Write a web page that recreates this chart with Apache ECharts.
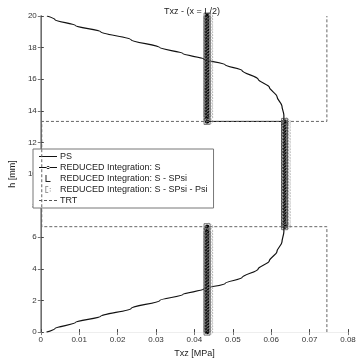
<!DOCTYPE html>
<html><head><meta charset="utf-8">
<script src="https://cdn.jsdelivr.net/npm/echarts@6/dist/echarts.min.js"></script>
<style>html,body{margin:0;padding:0;background:#fff}#c{width:360px;height:363px}</style>
</head><body><div id="c"></div>
<script>
// ---- data ----
var titleText = 'Txz - (x = L/2)';
var xName = 'Txz [MPa]';
var yName = 'h [mm]';
var xTicks = ['0','0.01','0.02','0.03','0.04','0.05','0.06','0.07','0.08'];
var seriesNames = ['PS','REDUCED Integration: S','REDUCED Integration: S - SPsi','REDUCED Integration: S - SPsi - Psi','TRT'];

// PS curve: [Txz, h]
var psX = [0.0015,0.0037,0.0090,0.0156,0.0235,0.0310,0.0370,0.0424,0.0480,0.0524,0.0566,0.0595,0.0615,0.0628,0.0633,0.0633,
           0.0633,0.0633,0.0628,0.0615,0.0595,0.0566,0.0524,0.0480,0.0424,0.0370,0.0310,0.0235,0.0156,0.0090,0.0037,0.0016];
var psH = [0.00,0.23,0.60,1.00,1.50,2.00,2.38,2.72,3.08,3.45,4.00,4.50,5.10,5.70,6.35,6.67,
           13.33,13.73,14.30,14.90,15.50,16.00,16.55,16.92,17.28,17.62,18.00,18.50,19.00,19.40,19.77,20.00];

// TRT: [Txz, h]
var trtX = [0.0745,0.0745,0.00025,0.00025,0.0745,0.0745];
var trtH = [0,6.67,6.67,13.33,13.33,20];

// Reduced-integration nodal values per layer
var layer1H = [0,0.2,0.4,0.6,0.8,1,1.2,1.4,1.6,1.8,2,2.2,2.4,2.6,2.8,3,3.2,3.4,3.6,3.8,4,4.2,4.4,4.6,4.8,5,5.2,5.4,5.6,5.8,6,6.2,6.4,6.67];
var layer2H = [6.67,6.8,7,7.2,7.4,7.6,7.8,8,8.2,8.4,8.6,8.8,9,9.2,9.4,9.6,9.8,10,10.2,10.4,10.6,10.8,11,11.2,11.4,11.6,11.8,12,12.2,12.4,12.6,12.8,13,13.2,13.33];
var layer3H = [13.33,13.6,13.8,14,14.2,14.4,14.6,14.8,15,15.2,15.4,15.6,15.8,16,16.2,16.4,16.6,16.8,17,17.2,17.4,17.6,17.8,18,18.2,18.4,18.6,18.8,19,19.2,19.4,19.6,19.8,20];
var sLayerX     = [0.0433,0.0635,0.0433];
var spsiLayerX  = [0.0433,0.0635,0.0433];
var psiLayerX   = [0.0435,0.0637,0.0435];

// ---- build ----
function zip(xs, hs){ return xs.map(function(x,i){ return [x, hs[i]]; }); }
function layerPts(vals, breakBottom){
  var out = [];
  layer1H.forEach(function(h){ out.push([vals[0], h]); });
  if (breakBottom) out.push(null);
  layer2H.forEach(function(h){ out.push([vals[1], h]); });
  layer3H.forEach(function(h){ out.push([vals[2], h]); });
  return out;
}

var icons = [
  'path://M0,3L18,3L18,4L0,4Z',
  'path://M0,3L18,3L18,4L0,4Z M7.5,3.5a1.6,1.6 0 1,0 3.2,0a1.6,1.6 0 1,0 -3.2,0Z',
  'path://M7,0L8,0L8,6L12,6L12,7L7,7Z',
  'path://M6,0L9,0L9,1L7,1L7,6L9,6L9,7L6,7Z M10.5,2L11.5,2L11.5,3L10.5,3Z M10.5,4.5L11.5,4.5L11.5,5.5L10.5,5.5Z',
  'path://M0,3h3v1h-3z M5,3h3v1h-3z M10,3h3v1h-3z M15,3h3v1h-3z'
];
var iconColors = ['#111','#111','#222','#999','#555'];
var legendData = seriesNames.map(function(n,i){
  return {name:n, icon:icons[i], itemStyle:{color:iconColors[i], borderWidth:0, opacity:1}};
});

var chart = echarts.init(document.getElementById('c'), null, {renderer:'canvas'});
var font = 'Liberation Sans, Arial, sans-serif';
chart.setOption({
  animation:false,
  backgroundColor:'#fff',
  title:{text:titleText, left:187, top:2, textAlign:'center',
    textStyle:{fontSize:9, fontWeight:'normal', color:'#222', fontFamily:font}},
  grid:{left:27, right:12, top:16, bottom:26},
  legend:{
    orient:'vertical', left:33, top:149, itemWidth:18, itemHeight:7, itemGap:2,
    backgroundColor:'#fff', borderColor:'#777', borderWidth:1, borderRadius:0,
    padding:[3,6,3,6],
    textStyle:{fontSize:9, color:'#222', fontFamily:font, padding:[0,0,0,-2]},
    data:legendData
  },
  xAxis:[{
    type:'value', min:0, max:0.08, interval:0.01,
    name:xName, nameLocation:'middle', nameGap:15,
    nameTextStyle:{fontSize:9, color:'#222', fontFamily:font},
    axisLine:{show:true, lineStyle:{color:'#222', width:1}},
    axisTick:{show:true, inside:true, length:3, lineStyle:{color:'#444'}},
    axisLabel:{fontSize:8, color:'#333', fontFamily:font, margin:4,
      formatter:function(v){ return xTicks[Math.round(v/0.01)]; }},
    splitLine:{show:false}
  },{
    type:'value', min:0, max:0.08, interval:0.01, position:'top',
    axisLine:{show:true, lineStyle:{color:'#eee', width:1}},
    axisTick:{show:true, inside:true, length:3, lineStyle:{color:'#777'}},
    axisLabel:{show:false}, splitLine:{show:false}
  }],
  yAxis:[{
    type:'value', min:0, max:20, interval:2,
    name:yName, nameLocation:'middle', nameGap:20, nameRotate:90,
    nameTextStyle:{fontSize:9, color:'#222', fontFamily:font},
    axisLine:{show:true, lineStyle:{color:'#222', width:1}},
    axisTick:{show:true, inside:true, length:3, lineStyle:{color:'#444'}},
    axisLabel:{fontSize:8, color:'#333', fontFamily:font, margin:4},
    splitLine:{show:false}
  },{
    type:'value', min:0, max:20, interval:2, position:'right',
    axisLine:{show:true, lineStyle:{color:'#888', width:1.5}},
    axisTick:{show:true, inside:true, length:3, lineStyle:{color:'#777'}},
    axisLabel:{show:false}, splitLine:{show:false}
  }],
  series:[
    {name:seriesNames[0], type:'line', data:zip(psX, psH), showSymbol:false, symbol:'none',
     smooth:0.3, smoothMonotone:'y', lineStyle:{color:'#111', width:1.2}, itemStyle:{color:'#111'}, z:2},
    {name:seriesNames[1], type:'line', data:layerPts(sLayerX, true), symbol:'circle', symbolSize:4.5,
     showSymbol:true, connectNulls:false,
     lineStyle:{color:'#000', width:1}, itemStyle:{color:'#000'}, z:3},
    {name:seriesNames[2], type:'scatter', data:layerPts(spsiLayerX, false), symbol:'rect', symbolSize:6,
     itemStyle:{color:'rgba(0,0,0,0)', borderColor:'#222', borderWidth:0.8}, z:4},
    {name:seriesNames[3], type:'scatter', data:layerPts(psiLayerX, false), symbol:'diamond', symbolSize:[9,7],
     symbolOffset:[1,0],
     itemStyle:{color:'rgba(0,0,0,0)', borderColor:'#999', borderWidth:1, borderType:'dotted'}, z:5},
    {name:seriesNames[4], type:'line', data:zip(trtX, trtH), showSymbol:false, symbol:'none',
     lineStyle:{color:'#666', width:1, type:[3,2]}, itemStyle:{color:'#666'}, z:6}
  ]
});
</script></body></html>
